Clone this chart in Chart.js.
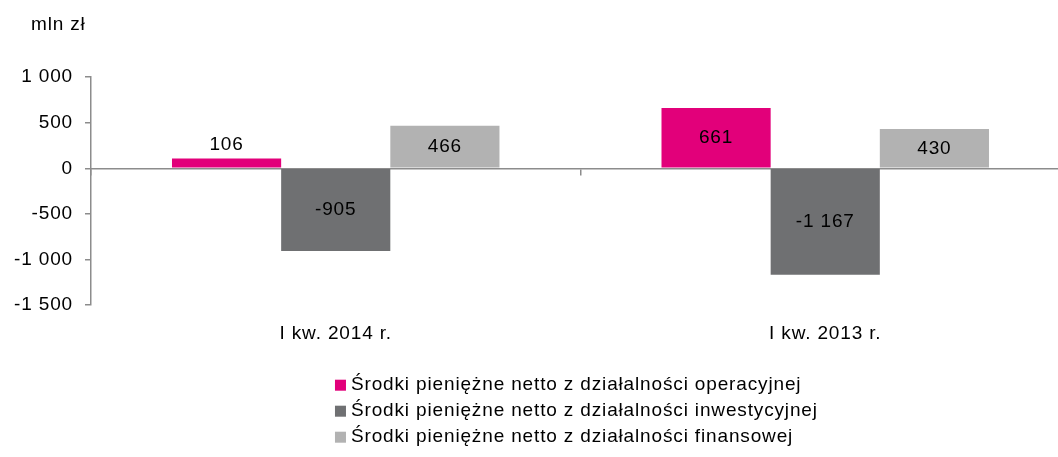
<!DOCTYPE html>
<html>
<head>
<meta charset="utf-8">
<script src="https://cdn.jsdelivr.net/npm/chart.js@4.4.0/dist/chart.umd.min.js"></script>
<style>
    html, body { margin: 0; padding: 0; background: #fff; overflow: hidden; }
    #wrap { width: 1070px; height: 457px; }
</style>
</head>
<body>
<div id="wrap"><canvas id="chart"></canvas></div>
<script>
const categories = ['I kw. 2014 r.', 'I kw. 2013 r.'];
const seriesNames = [
    'Środki pieniężne netto z działalności operacyjnej',
    'Środki pieniężne netto z działalności inwestycyjnej',
    'Środki pieniężne netto z działalności finansowej'
];
const operacyjna = [106, 661];
const inwestycyjna = [-905, -1167];
const finansowa = [466, 430];
const seriesColors = ['#e2007a', '#6f7072', '#b2b2b2'];
const unitLabel = 'mln zł';

const FONT = '"Liberation Sans", Arial, sans-serif';
const SPACING = '0.85px';
const fmt = (v) => {
    const s = String(Math.abs(v)).replace(/\B(?=(\d{3})+(?!\d))/g, ' ');
    return (v < 0 ? '-' : '') + s;
};

// the original text is set a little wider than Arial
const spacing = {
    id: 'spacing',
    beforeLayout(chart) { chart.ctx.letterSpacing = SPACING; },
    beforeDraw(chart) { chart.ctx.letterSpacing = SPACING; }
};

const valueLabels = {
    id: 'valueLabels',
    afterDatasetsDraw(chart) {
        const ctx = chart.ctx;
        ctx.save();
        ctx.font = '19px ' + FONT;
        ctx.fillStyle = '#000';
        ctx.textAlign = 'center';
        ctx.textBaseline = 'middle';
        chart.data.datasets.forEach((ds, i) => {
            chart.getDatasetMeta(i).data.forEach((bar, j) => {
                const v = ds.data[j];
                const h = Math.abs(bar.base - bar.y);
                let y = (bar.y + bar.base) / 2;
                if (h < 25) y = v >= 0 ? bar.y - 14 : bar.y + 14;
                ctx.fillText(fmt(v), bar.x, y);
            });
        });
        ctx.restore();
    }
};

const extras = {
    id: 'extras',
    afterDraw(chart) {
        const ctx = chart.ctx;
        const area = chart.chartArea;
        ctx.save();
        ctx.font = '19px ' + FONT;
        ctx.fillStyle = '#000';
        ctx.textBaseline = 'middle';
        ctx.textAlign = 'left';
        ctx.fillText(unitLabel, area.left - 60, 25);

        // legend as a vertical list under the plot
        const box = 11;
        const gap = 5;
        const x0 = area.left + 244;
        chart.data.datasets.forEach((ds, i) => {
            const y = area.bottom + 80 + i * 26;
            ctx.fillStyle = ds.backgroundColor;
            ctx.fillRect(x0, y - box / 2, box, box);
            ctx.fillStyle = '#000';
            ctx.fillText(ds.label, x0 + box + gap, y);
        });
        ctx.restore();
    }
};

const config = {
    type: 'bar',
    data: {
        labels: categories,
        datasets: [
            {label: seriesNames[0], data: operacyjna, backgroundColor: seriesColors[0]},
            {label: seriesNames[1], data: inwestycyjna, backgroundColor: seriesColors[1]},
            {label: seriesNames[2], data: finansowa, backgroundColor: seriesColors[2]}
        ]
    },
    options: {
        responsive: true,
        maintainAspectRatio: false,
        animation: false,
        layout: {
            padding: {left: 2, right: 0, top: 77, bottom: 103}
        },
        datasets: {
            bar: {
                categoryPercentage: 0.669,
                barPercentage: 1,
                borderWidth: 0
            }
        },
        scales: {
            x: {
                grid: {display: false},
                border: {display: false},
                ticks: {
                    color: '#000',
                    padding: 9,
                    font: {family: FONT, size: 19}
                }
            },
            x2: {
                type: 'category',
                labels: categories,
                position: {y: 0},
                grid: {
                    offset: true,
                    drawOnChartArea: false,
                    drawTicks: true,
                    tickLength: 6,
                    color: '#8c8c8c',
                    lineWidth: 1.5
                },
                border: {display: true, color: '#8c8c8c', width: 1.5},
                ticks: {display: false}
            },
            y: {
                min: -1500,
                max: 1000,
                grid: {
                    drawOnChartArea: false,
                    tickLength: 6,
                    color: '#8c8c8c',
                    lineWidth: 1.5
                },
                border: {display: true, color: '#8c8c8c', width: 1.5},
                ticks: {
                    stepSize: 500,
                    color: '#000',
                    padding: 12,
                    font: {family: FONT, size: 19},
                    callback: (v) => fmt(v)
                }
            }
        },
        plugins: {
            legend: {display: false},
            tooltip: {enabled: false}
        }
    },
    plugins: [spacing, valueLabels, extras]
};

new Chart(document.getElementById('chart'), config);
</script>
</body>
</html>
